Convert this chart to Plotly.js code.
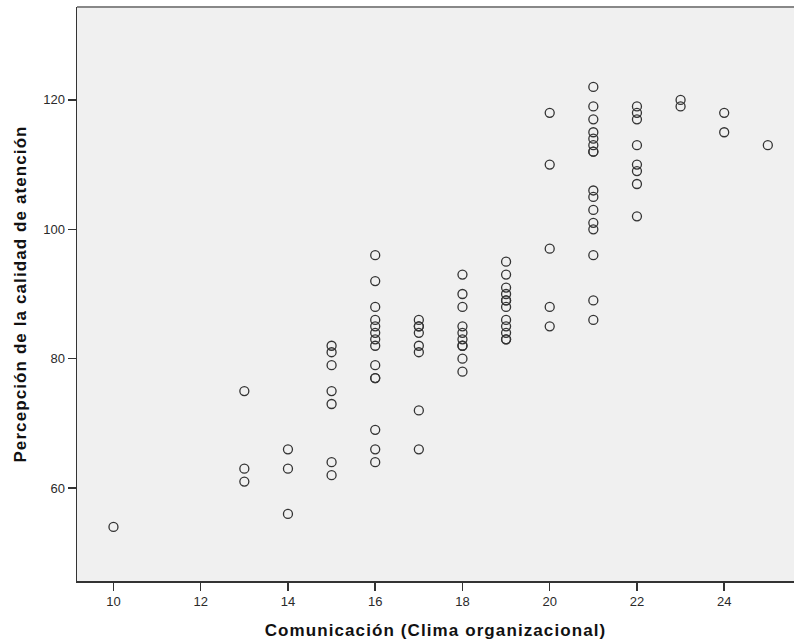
<!DOCTYPE html>
<html>
<head>
<meta charset="utf-8">
<script src="https://cdn.plot.ly/plotly-3.0.1.min.js"></script>
<style>
html,body{margin:0;padding:0;background:#fff;}
#chart{width:794px;height:643px;}
.g-xtitle text, .g-ytitle text{letter-spacing:1.1px;}
</style>
</head>
<body>
<div id="chart"></div>
<script>
// Comunicación (Clima organizacional) values and matching perception scores
const comunicacion = [
  10,
  13, 13, 13,
  14, 14, 14,
  15, 15, 15, 15, 15, 15, 15,
  16, 16, 16, 16, 16, 16, 16, 16, 16, 16, 16, 16, 16, 16,
  17, 17, 17, 17, 17, 17, 17, 17,
  18, 18, 18, 18, 18, 18, 18, 18, 18, 18,
  19, 19, 19, 19, 19, 19, 19, 19, 19, 19, 19, 19,
  20, 20, 20, 20, 20,
  21, 21, 21, 21, 21, 21, 21, 21, 21, 21, 21, 21, 21, 21, 21, 21,
  22, 22, 22, 22, 22, 22, 22, 22,
  23, 23,
  24, 24,
  25
];
const percepcion = [
  54,
  75, 63, 61,
  66, 63, 56,
  82, 81, 79, 75, 73, 64, 62,
  96, 92, 88, 86, 85, 84, 83, 82, 79, 77, 77, 69, 66, 64,
  86, 85, 85, 84, 82, 81, 72, 66,
  93, 90, 88, 85, 84, 83, 82, 82, 80, 78,
  95, 93, 91, 90, 89, 89, 88, 86, 85, 84, 83, 83,
  118, 110, 97, 88, 85,
  122, 119, 117, 115, 114, 113, 112, 112, 106, 105, 103, 101, 100, 96, 89, 86,
  119, 118, 117, 113, 110, 109, 107, 102,
  120, 119,
  118, 115,
  113
];
const xTicks = [10, 12, 14, 16, 18, 20, 22, 24];
const yTicks = [60, 80, 100, 120];
const xTitle = 'Comunicación (Clima organizacional)';
const yTitle = 'Percepción de la calidad de atención';

const trace = {
  x: comunicacion,
  y: percepcion,
  type: 'scatter',
  mode: 'markers',
  marker: {
    symbol: 'circle-open',
    size: 9,
    color: '#333333',
    line: {width: 1.3, color: '#333333'}
  },
  hoverinfo: 'x+y'
};

const titleFont = {size: 17, color: '#111111', family: 'Liberation Sans, Arial, sans-serif', weight: 'bold'};

const layout = {
  width: 794,
  height: 643,
  margin: {l: 76.5, r: 0, t: 7, b: 61.5},
  paper_bgcolor: '#ffffff',
  plot_bgcolor: '#f0f0f0',
  showlegend: false,
  font: {family: 'Liberation Sans, Arial, sans-serif', color: '#222222'},
  xaxis: {
    range: [9.164, 25.6],
    tickvals: xTicks,
    ticktext: xTicks.map(String),
    showgrid: false,
    zeroline: false,
    showline: true,
    linecolor: '#333333',
    linewidth: 1.5,
    ticks: 'outside',
    ticklen: 8,
    tickwidth: 1.5,
    tickcolor: '#333333',
    tickfont: {size: 13, color: '#2a2a2a'},
    title: {text: xTitle, font: titleFont, standoff: 16}
  },
  yaxis: {
    range: [45.64, 134.36],
    tickvals: yTicks,
    ticktext: yTicks.map(String),
    showgrid: false,
    zeroline: false,
    showline: true,
    linecolor: '#333333',
    linewidth: 1.5,
    ticks: 'outside',
    ticklen: 8,
    tickwidth: 1.5,
    tickcolor: '#333333',
    tickfont: {size: 13, color: '#2a2a2a'},
    title: {text: yTitle, font: titleFont, standoff: 12}
  },
  shapes: [{
    type: 'line', xref: 'paper', yref: 'paper',
    x0: 0, x1: 1, y0: 1, y1: 1,
    line: {color: '#888888', width: 2}
  }]
};

Plotly.newPlot('chart', [trace], layout, {displayModeBar: false, staticPlot: true});
</script>
</body>
</html>
